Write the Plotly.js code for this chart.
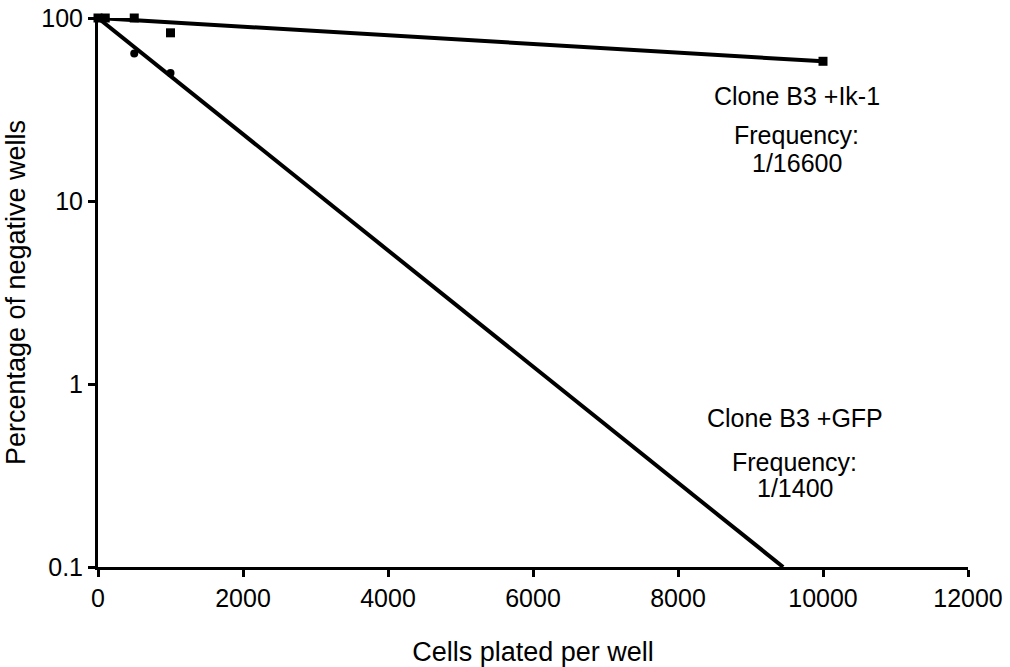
<!DOCTYPE html>
<html>
<head>
<meta charset="utf-8">
<script src="https://cdn.plot.ly/plotly-3.0.1.min.js"></script>
<style>html,body{margin:0;padding:0;background:#fff;}#chart{width:1010px;height:667px;}</style>
</head>
<body>
<div id="chart"></div>
<script>
// Data
var ik1X = [0, 100, 500, 1000, 10000];
var ik1Y = [100, 100, 100, 83, 58];
var gfpX = [0, 100, 500, 1000];
var gfpY = [100, 100, 64, 50];
var ik1FitX = [0, 10000];
var ik1FitY = [100, 58];
var gfpFitX = [0, 9450];
var gfpFitY = [100, 0.1];
var xTicks = [0, 2000, 4000, 6000, 8000, 10000, 12000];
var yTicks = [0.1, 1, 10, 100];
var yTickLabels = ['0.1', '1', '10', '100'];

var F = 'Liberation Sans, Arial, sans-serif';

var traces = [
  {x: ik1FitX, y: ik1FitY, mode: 'lines', line: {color: '#000', width: 4}, hoverinfo: 'skip'},
  {x: gfpFitX, y: gfpFitY, mode: 'lines', line: {color: '#000', width: 4}, hoverinfo: 'skip'},
  {x: ik1X, y: ik1Y, mode: 'markers', cliponaxis: false, marker: {symbol: 'square', size: 9, color: '#000'}},
  {x: gfpX, y: gfpY, mode: 'markers', cliponaxis: false, marker: {symbol: 'circle', size: 8, color: '#000'}}
];

function ann(x, y, t) {
  return {x: x, y: y, xref: 'x', yref: 'y', text: t, showarrow: false, font: {family: F, size: 25, color: '#000'}};
}

var layout = {
  width: 1010, height: 667,
  margin: {l: 98, r: 42, t: 18, b: 100},
  showlegend: false,
  paper_bgcolor: '#fff', plot_bgcolor: '#fff',
  font: {family: F, size: 25, color: '#000'},
  xaxis: {
    range: [0, 12000], tickvals: xTicks, ticktext: xTicks.map(String),
    showgrid: false, zeroline: false, showline: true, linecolor: '#000', linewidth: 3,
    ticks: 'outside', ticklen: 7, tickwidth: 3, tickcolor: '#000',
    tickfont: {family: F, size: 25, color: '#000'},
    title: {text: 'Cells plated per well', font: {family: F, size: 27, color: '#000'}, standoff: 32},
    automargin: false
  },
  yaxis: {
    type: 'log', range: [-1, 2], tickvals: yTicks, ticktext: yTickLabels,
    showgrid: false, zeroline: false, showline: true, linecolor: '#000', linewidth: 3,
    ticks: 'outside', ticklen: 7, tickwidth: 3, tickcolor: '#000',
    tickfont: {family: F, size: 25, color: '#000'},
    title: {text: 'Percentage of negative wells', font: {family: F, size: 27, color: '#000'}, standoff: 8},
    automargin: false
  },
  annotations: [
    ann(9640, 1.574, 'Clone B3 +Ik-1'),
    ann(9640, 1.361, 'Frequency:'),
    ann(9640, 1.208, '1/16600'),
    ann(9610, -0.186, 'Clone B3 +GFP'),
    ann(9610, -0.426, 'Frequency:'),
    ann(9610, -0.568, '1/1400')
  ]
};

Plotly.newPlot('chart', traces, layout, {displayModeBar: false, staticPlot: true});
</script>
</body>
</html>
